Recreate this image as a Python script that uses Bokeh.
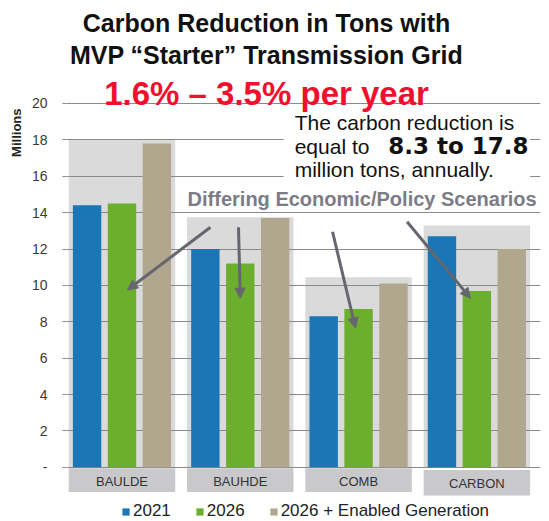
import numpy as np
from bokeh.plotting import figure
from bokeh.models import (Range1d, FixedTicker, Label, Legend, Title,
                          LegendItem, BoxAnnotation, Arrow, NormalHead)
from bokeh.core.properties import value
from bokeh.embed import file_html
from bokeh.resources import INLINE

# ---------------- data ----------------
categories = ["BAULDE", "BAUHDE", "COMB", "CARBON"]
series_names = ["2021", "2026", "2026 + Enabled Generation"]
v2021 = [14.4, 12.0, 8.3, 12.7]
v2026 = [14.5, 11.2, 8.7, 9.7]
v_enabled = [17.8, 13.7, 10.1, 12.0]
highlight_tops = [18.0, 13.75, 10.45, 13.3]
y_ticks = [0, 2, 4, 6, 8, 10, 12, 14, 16, 18, 20]
y_tick_labels = ["-", "2", "4", "6", "8", "10", "12", "14", "16", "18", "20"]

title_1 = "Carbon Reduction in Tons with"
title_2 = "MVP \u201cStarter\u201d Transmission Grid"
title_3 = "1.6% \u2013 3.5% per year"
note_1 = "The carbon reduction is"
note_2a = "equal to"
note_2b = "8.3 to 17.8"
note_3 = "million tons, annually."
scenario_text = "Differing Economic/Policy Scenarios"
unit_text = "Millions"

# ---------------- styling ----------------
FONT = "Liberation Sans"
colors = ["#1a76b4", "#6cae2e", "#b1a68e"]
offsets = [-0.295, 0.0, 0.295]
bar_w = 0.24
box_w = 0.9

idx = np.arange(len(categories))

p = figure(width=549, height=521,
           x_range=Range1d(-0.469, 3.538), y_range=Range1d(-2.975, 25.66),
           output_backend="svg", toolbar_location=None,
           min_border_left=66, min_border_right=9, min_border_top=0,
           min_border_bottom=0)
p.outline_line_color = None
p.background_fill_color = "white"
p.border_fill_color = "white"
p.xaxis.visible = False
p.xgrid.visible = False

yax = p.yaxis[0]
yax.ticker = FixedTicker(ticks=y_ticks)
yax.major_label_overrides = {t: lab for t, lab in zip(y_ticks, y_tick_labels)}
yax.axis_line_color = None
yax.major_tick_in = 0
yax.major_tick_out = 4
yax.major_tick_line_color = "#8a8a8a"
yax.minor_tick_line_color = None
yax.major_label_standoff = 15
yax.major_label_text_font = FONT
yax.major_label_text_font_size = "14px"
yax.major_label_text_color = "#3a3a3a"
p.ygrid.grid_line_color = "#8a8a8a"
p.ygrid.grid_line_width = 1

# unit label: a vertical title on the left, pushed to the top of the axis
p.add_layout(Title(text=unit_text, align="right", offset=108, standoff=10,
                   text_font=FONT, text_font_size="13px",
                   text_font_style="bold", text_color="#222222"), "left")

# highlight columns behind each group (under the grid)
p.quad(left=idx - box_w / 2, right=idx + box_w / 2, bottom=0, top=highlight_tops,
       fill_color="#dadada", line_color=None, level="underlay")
# category label boxes
lab_bottom = [-1.35, -1.35, -1.35, -1.55]
lab_top = [-0.05, -0.05, -0.05, -0.15]
p.quad(left=idx - box_w / 2, right=idx + box_w / 2, bottom=lab_bottom, top=lab_top,
       fill_color="#c9c9cc", line_color=None, level="underlay")
p.text(x=idx, y=[-0.8, -0.8, -0.8, -0.9], text=categories,
       text_font=value(FONT), text_font_size="13px", text_color="#333333",
       text_align="center", text_baseline="middle")

# bars
renderers = []
for vals, col, off in zip([v2021, v2026, v_enabled], colors, offsets):
    r = p.vbar(x=idx + off, top=vals, width=bar_w, bottom=0,
               fill_color=col, line_color=None)
    renderers.append(r)

# white box behind the note
p.add_layout(BoxAnnotation(left=1.367, right=3.45, bottom=14.8, top=19.85,
                           fill_color="white", fill_alpha=1.0, line_color=None))


def add_label(x, y, text, size, color="#111111", bold=False, align="left",
              font=FONT):
    p.add_layout(Label(x=x, y=y, text=text, text_align=align,
                       text_baseline="middle", text_font=font,
                       text_font_size=size,
                       text_font_style="bold" if bold else "normal",
                       text_color=color))


# titles
add_label(1.222, 24.4, title_1, "25px", bold=True, align="center")
add_label(1.222, 22.64, title_2, "25px", bold=True, align="center")
add_label(1.222, 20.55, title_3, "33px", color="#f0102e", bold=True, align="center")

# note text
add_label(1.46, 18.93, note_1, "21px")
add_label(1.46, 17.64, note_2a, "21px")
add_label(2.25, 17.64, note_2b, "23px", bold=True, font="DejaVu Sans")
add_label(1.46, 16.35, note_3, "21px")

# scenarios heading
add_label(2.03, 14.73, scenario_text, "20px", color="#7c7c86", bold=True,
          align="center")

# arrows
arrow_col = "#66666f"
arrows = [((0.748, 13.2), (0.046, 9.75)),
          ((0.985, 13.2), (1.0, 9.3)),
          ((1.78, 12.95), (1.974, 7.66)),
          ((2.41, 13.5), (2.946, 9.3))]
for (xs, ys), (xe, ye) in arrows:
    p.add_layout(Arrow(x_start=xs, y_start=ys, x_end=xe, y_end=ye,
                       line_color=arrow_col, line_width=3,
                       end=NormalHead(size=10, fill_color=arrow_col,
                                      line_color=arrow_col)))

# legend (inside the frame, at its foot)
legend = Legend(items=[LegendItem(label=n, renderers=[r])
                       for n, r in zip(series_names, renderers)],
                orientation="horizontal", location=(55, 0),
                glyph_width=9, glyph_height=9, label_standoff=3, spacing=24,
                padding=2, margin=0, border_line_color=None,
                background_fill_alpha=0, label_text_font=FONT,
                label_text_font_size="17px", label_height=18,
                label_text_color="#222222")
p.add_layout(legend, "center")

open("out.html", "w").write(file_html(p, INLINE))
